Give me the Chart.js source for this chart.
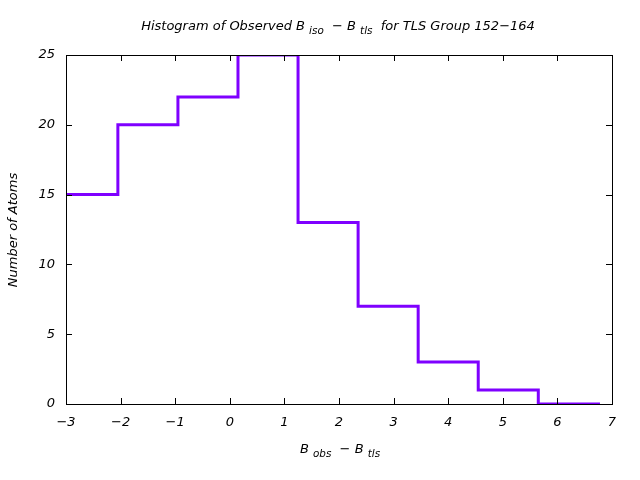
<!DOCTYPE html>
<html>
<head>
<meta charset="UTF-8">
<title>Histogram B obs - B tls</title>
<script src="https://cdn.jsdelivr.net/npm/chart.js"></script>
<style>
    body { margin: 0; background: #fff; }
    #wrap { width: 640px; height: 480px; }
</style>
</head>
<body>
<div id="wrap"><canvas id="hist" width="640" height="480"></canvas></div>
<script>
// bin left edges and counts (last edge closes the final bin)
const binEdges = [-3, -2.05, -0.95, 0.15, 1.25, 2.35, 3.45, 4.55, 5.65, 6.78];
const counts   = [15, 20, 22, 25, 13, 7, 3, 1, 0];
const xTicks = [-3, -2, -1, 0, 1, 2, 3, 4, 5, 6, 7];
const yTicks = [0, 5, 10, 15, 20, 25];

const FONT = '"DejaVu Sans", sans-serif';

// step points: each bin's left edge with its count, plus closing point
const points = binEdges.map((x, i) => ({ x: x, y: i < counts.length ? counts[i] : counts[counts.length - 1] }));

// draws text made of normal and subscript pieces, centred at (cx, cy)
function richText(ctx, parts, cx, cy, size) {
    let total = 0;
    parts.forEach(p => {
        ctx.font = 'italic ' + (p.sub ? size * 0.8 : size) + 'px ' + FONT;
        total += ctx.measureText(p.t).width;
    });
    let x = cx - total / 2;
    ctx.textAlign = 'left';
    ctx.textBaseline = 'middle';
    parts.forEach(p => {
        ctx.font = 'italic ' + (p.sub ? size * 0.8 : size) + 'px ' + FONT;
        ctx.fillText(p.t, x, cy + (p.sub ? size * 0.3 : 0));
        x += ctx.measureText(p.t).width;
    });
}

const minus = v => String(v).replace('-', '\u2212');

const frame = {
    id: 'frame',
    afterDatasetsDraw(chart) {
        const ctx = chart.ctx;
        const a = chart.chartArea;
        const xs = chart.scales.x, ys = chart.scales.y;
        ctx.save();
        ctx.strokeStyle = '#000';
        ctx.lineWidth = 1;
        ctx.beginPath();
        xTicks.forEach(v => {
            const px = Math.round(xs.getPixelForValue(v)) + 0.5;
            ctx.moveTo(px, a.bottom); ctx.lineTo(px, a.bottom - 6);
            ctx.moveTo(px, a.top); ctx.lineTo(px, a.top + 6);
        });
        yTicks.forEach(v => {
            const py = Math.round(ys.getPixelForValue(v)) + 0.5;
            ctx.moveTo(a.left, py); ctx.lineTo(a.left + 6, py);
            ctx.moveTo(a.right, py); ctx.lineTo(a.right - 6, py);
        });
        ctx.stroke();
        ctx.strokeRect(Math.round(a.left) + 0.5, Math.round(a.top) + 0.5,
            Math.round(a.right - a.left), Math.round(a.bottom - a.top));
        ctx.restore();
    },
    afterDraw(chart) {
        const ctx = chart.ctx;
        ctx.save();
        ctx.fillStyle = '#000';
        richText(ctx, [
            { t: 'Histogram of Observed B ' }, { t: 'iso', sub: true },
            { t: '  \u2212 B ' }, { t: 'tls', sub: true },
            { t: '  for TLS Group 152\u2212164' }
        ], 338, 27, 13);
        richText(ctx, [
            { t: 'B ' }, { t: 'obs', sub: true }, { t: '  \u2212 B ' }, { t: 'tls', sub: true }
        ], 340, 450, 13);
        ctx.translate(14, 230);
        ctx.rotate(-Math.PI / 2);
        richText(ctx, [{ t: 'Number of Atoms' }], 0, 0, 13);
        ctx.restore();
    }
};

new Chart(document.getElementById('hist'), {
    type: 'line',
    data: {
        datasets: [{
            data: points,
            stepped: 'before',
            borderColor: '#7f00ff',
            borderWidth: 3,
            pointRadius: 0,
            fill: false
        }]
    },
    options: {
        responsive: false,
        animation: false,
        layout: { padding: { top: 55, right: 28, left: 0, bottom: 0 } },
        plugins: { legend: { display: false }, tooltip: { enabled: false } },
        scales: {
            x: {
                type: 'linear',
                min: -3, max: 7,
                afterBuildTicks: s => { s.ticks = xTicks.map(v => ({ value: v })); },
                afterFit: s => { s.height = 76; },
                grid: { display: false },
                border: { display: false },
                ticks: { color: '#000', padding: 3, callback: minus, font: { family: FONT, size: 13, style: 'italic' } }
            },
            y: {
                min: 0, max: 25,
                afterBuildTicks: s => { s.ticks = yTicks.map(v => ({ value: v })); },
                afterFit: s => { s.width = 66; },
                grid: { display: false },
                border: { display: false },
                ticks: { color: '#000', padding: 3, callback: minus, font: { family: FONT, size: 13, style: 'italic' } }
            }
        }
    },
    plugins: [frame]
});
</script>
</body>
</html>
